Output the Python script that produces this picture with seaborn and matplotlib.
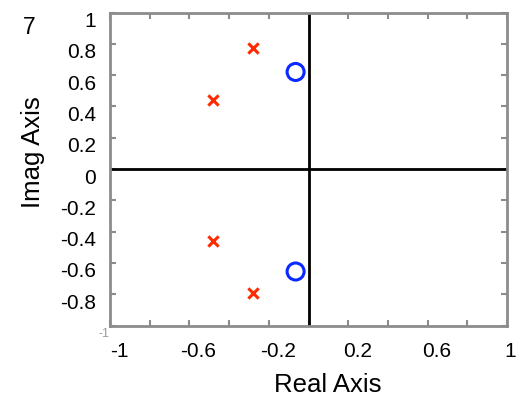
import matplotlib
matplotlib.use("Agg")
import matplotlib.pyplot as plt
import matplotlib.transforms as mtransforms
import seaborn as sns
import pandas as pd

sns.set_theme(style="white")
plt.rcParams['font.family'] = ['Liberation Sans', 'DejaVu Sans']

# Data
pole_re = [-0.48, -0.28, -0.48, -0.28]
pole_im = [0.44, 0.77, -0.46, -0.79]
zero_re = [-0.065, -0.065]
zero_im = [0.62, -0.655]

xtick_vals = [-1, -0.8, -0.6, -0.4, -0.2, 0, 0.2, 0.4, 0.6, 0.8, 1]
xtick_labels = ["-1", "", "-0.6", "", "-0.2", "", "0.2", "", "0.6", "", "1"]
ytick_vals = [-1, -0.8, -0.6, -0.4, -0.2, 0, 0.2, 0.4, 0.6, 0.8, 1]
ytick_labels = ["", "-0.8", "-0.6", "-0.4", "-0.2", "0", "0.2", "0.4", "0.6", "0.8", "1"]

poles = pd.DataFrame({"re": pole_re, "im": pole_im})
zeros = pd.DataFrame({"re": zero_re, "im": zero_im})

fig = plt.figure(figsize=(5.19, 3.97), dpi=100)
ax = fig.add_axes([110/519, (397-325.5)/397, 397/519, 313/397])

ax.axhline(0, color="black", lw=2, zorder=1)
ax.axvline(0, color="black", lw=2, zorder=1)

sns.scatterplot(data=poles, x="re", y="im", ax=ax, marker="x", color="#ff2a00",
                s=55, linewidth=2.2, zorder=3, legend=False)
sns.scatterplot(data=zeros, x="re", y="im", ax=ax, marker="o", facecolor="none",
                edgecolor="#0a28ff", s=150, linewidth=2.2, zorder=3, legend=False)

ax.set_xlim(-1, 1)
ax.set_ylim(-1, 1)
ax.set_xticks(xtick_vals)
ax.set_xticklabels(xtick_labels)
ax.set_yticks(ytick_vals)
ax.set_yticklabels(ytick_labels)

for side in ["left", "right", "top", "bottom"]:
    ax.spines[side].set_color("#8c8c8c")
    ax.spines[side].set_linewidth(2)
    ax.spines[side].set_visible(True)

ax.tick_params(axis="both", which="major", direction="in", length=4, width=1.5,
               color="#8c8c8c", labelsize=15, labelcolor="black",
               top=True, right=True, bottom=True, left=True)
ax.tick_params(axis="x", pad=12)
ax.tick_params(axis="y", pad=10)

xlabs = ax.get_xticklabels()
for i, lab in enumerate(xlabs):
    shift = 3 if i == len(xlabs) - 1 else 9
    dx = mtransforms.ScaledTranslation(shift/100, 0, fig.dpi_scale_trans)
    lab.set_transform(lab.get_transform() + dx)
dy = mtransforms.ScaledTranslation(0, -7/100, fig.dpi_scale_trans)
for lab in ax.get_yticklabels():
    lab.set_transform(lab.get_transform() + dy)

ax.set_xlabel("Real Axis", fontsize=18.5, color="black", va="center", ha="center")
ax.xaxis.set_label_coords((327.5-110)/397, (325.5-385.5)/313)
ax.set_ylabel("Imag Axis", fontsize=18.5, color="black", va="center", ha="center")
ax.yaxis.set_label_coords((33-110)/397, (325.5-152)/313)

fig.text(29/519, 1 - 28/397, "7", fontsize=16.5, ha="center", va="center", color="black")
fig.text(104/519, 1 - 334/397, "-1", fontsize=9, ha="center", va="center", color="#9a9a9a")

fig.savefig("out.png", dpi=100)
